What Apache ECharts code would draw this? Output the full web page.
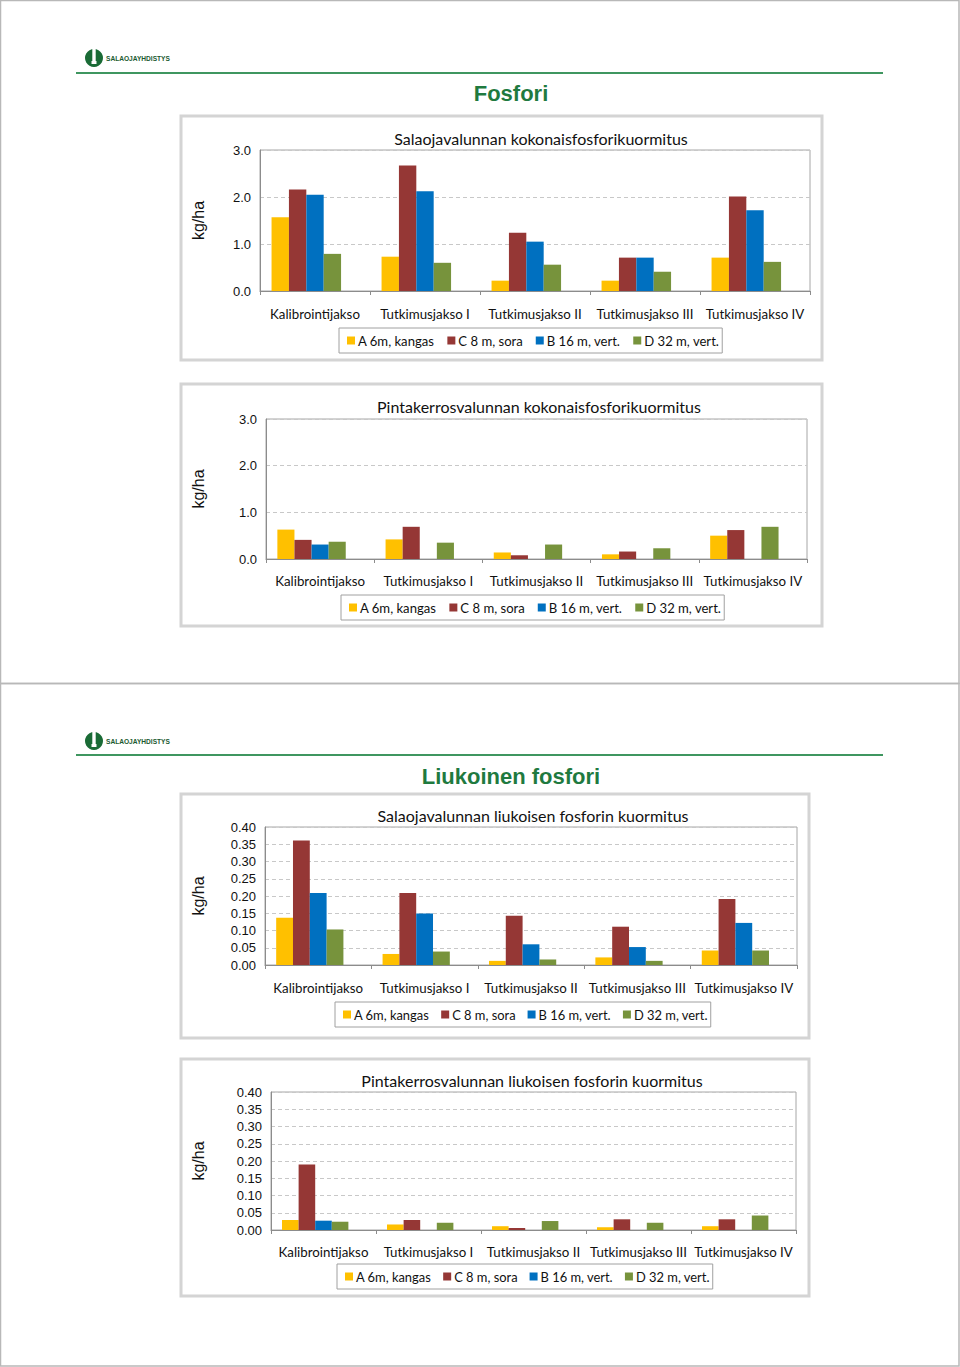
<!DOCTYPE html>
<html>
<head>
<meta charset="utf-8">
<script src="https://cdn.jsdelivr.net/npm/echarts@6/dist/echarts.min.js"></script>
<style>
html,body{margin:0;padding:0;background:#fff;}
#main{width:960px;height:1367px;}
</style>
</head>
<body>
<div id="main"></div>
<script>
// ---- data ----
const categories = ['Kalibrointijakso', 'Tutkimusjakso I', 'Tutkimusjakso II', 'Tutkimusjakso III', 'Tutkimusjakso IV'];
const seriesNames = ['A 6m, kangas', 'C 8 m, sora', 'B 16 m, vert.', 'D 32 m, vert.'];
const pageTitles = ['Fosfori', 'Liukoinen fosfori'];
const chartTitles = [
  'Salaojavalunnan kokonaisfosforikuormitus',
  'Pintakerrosvalunnan kokonaisfosforikuormitus',
  'Salaojavalunnan liukoisen fosforin kuormitus',
  'Pintakerrosvalunnan liukoisen fosforin kuormitus'
];
const yUnit = 'kg/ha';

// Chart 1: Salaojavalunnan kokonaisfosforikuormitus
const tot_drain_A = [1.57, 0.73, 0.22, 0.22, 0.71];
const tot_drain_C = [2.16, 2.67, 1.24, 0.71, 2.01];
const tot_drain_B = [2.05, 2.12, 1.05, 0.71, 1.72];
const tot_drain_D = [0.79, 0.60, 0.56, 0.41, 0.62];

// Chart 2: Pintakerrosvalunnan kokonaisfosforikuormitus
const tot_surf_A = [0.63, 0.42, 0.14, 0.10, 0.50];
const tot_surf_C = [0.41, 0.69, 0.08, 0.16, 0.62];
const tot_surf_B = [0.31, null, null, null, null];
const tot_surf_D = [0.37, 0.35, 0.31, 0.23, 0.69];

// Chart 3: Salaojavalunnan liukoisen fosforin kuormitus
const dis_drain_A = [0.137, 0.032, 0.012, 0.022, 0.042];
const dis_drain_C = [0.361, 0.209, 0.143, 0.111, 0.191];
const dis_drain_B = [0.209, 0.149, 0.060, 0.052, 0.122];
const dis_drain_D = [0.103, 0.039, 0.016, 0.012, 0.042];

// Chart 4: Pintakerrosvalunnan liukoisen fosforin kuormitus
const dis_surf_A = [0.029, 0.016, 0.011, 0.008, 0.011];
const dis_surf_C = [0.190, 0.029, 0.006, 0.031, 0.031];
const dis_surf_B = [0.027, null, null, null, null];
const dis_surf_D = [0.024, 0.021, 0.026, 0.021, 0.042];

const yTicks1 = [0, 3, 1];      // min, max, interval
const yTicks2 = [0, 0.4, 0.05];

// ---- styles ----
const colors = ['#FFC000', '#953735', '#0070C0', '#77933C'];
const calibri = 'Lato, "Open Sans", sans-serif';
const arial = '"Liberation Sans", Arial, sans-serif';
const green = '#1f7a3f';

const chartData = [
  [tot_drain_A, tot_drain_C, tot_drain_B, tot_drain_D],
  [tot_surf_A, tot_surf_C, tot_surf_B, tot_surf_D],
  [dis_drain_A, dis_drain_C, dis_drain_B, dis_drain_D],
  [dis_surf_A, dis_surf_C, dis_surf_B, dis_surf_D]
];
const scales = [yTicks1, yTicks1, yTicks2, yTicks2];
const decimals = [1, 1, 2, 2];

// layout
const grids = [
  {left: 260, top: 150, width: 550, height: 141},
  {left: 266, top: 419, width: 541, height: 140},
  {left: 265, top: 827, width: 532, height: 138},
  {left: 271, top: 1092, width: 525, height: 138}
];
const boxes = [
  {x: 181, y: 116, w: 641, h: 244},
  {x: 181, y: 384, w: 641, h: 242},
  {x: 181, y: 794, w: 628, h: 244},
  {x: 181, y: 1059, w: 628, h: 237}
];
const titlePos = [[541, 138], [539, 406], [533, 815], [532, 1080]];
const legendPos = [[339, 328], [341, 595], [335, 1002], [337, 1264]];
const legendFont = [13.1, 13.1, 12.9, 12.9];
const legendGap = [13, 13, 12, 12];
const nameGaps = [54, 60, 59, 65];
const labelMargins = [16, 15, 16, 15];

const option = {
  animation: false,
  grid: [], xAxis: [], yAxis: [], series: [], legend: [], title: [],
  graphic: []
};

// page frames
option.graphic.push(
  {type: 'rect', shape: {x: 0.5, y: 0.5, width: 958.5, height: 683}, style: {fill: 'none', stroke: '#b8b8b8', lineWidth: 1.5}, silent: true},
  {type: 'rect', shape: {x: 0.5, y: 683.5, width: 958.5, height: 682.5}, style: {fill: 'none', stroke: '#b8b8b8', lineWidth: 1.5}, silent: true}
);

// headers
[[58, 73, 93], [741, 755, 776]].forEach((h, i) => {
  const [ly, lineY, ty] = h;
  option.graphic.push(
    {type: 'circle', shape: {cx: 94, cy: ly, r: 9}, style: {fill: '#1a6b36'}, silent: true},
    {type: 'rect', shape: {x: 92.3, y: ly - 9, width: 3.4, height: 14}, style: {fill: '#ffffff'}, silent: true},
    {type: 'rect', shape: {x: 91.5, y: ly + 3, width: 5, height: 3}, style: {fill: '#ffffff'}, silent: true},
    {type: 'text', x: 106, y: ly, style: {text: 'SALAOJAYHDISTYS', fill: '#1a5a30', font: 'bold 6.6px ' + arial, textVerticalAlign: 'middle'}, silent: true},
    {type: 'rect', shape: {x: 76, y: lineY - 1, width: 807, height: 2}, style: {fill: '#3f9660'}, silent: true},
    {type: 'text', x: 511, y: ty, style: {text: pageTitles[i], fill: green, font: 'bold 22px ' + arial, textAlign: 'center', textVerticalAlign: 'middle'}, silent: true}
  );
});

chartData.forEach((sets, k) => {
  const b = boxes[k];
  option.graphic.push({type: 'rect', z: -10, shape: {x: b.x, y: b.y, width: b.w, height: b.h}, style: {fill: '#fff', stroke: '#d4d4d4', lineWidth: 3}, silent: true});
  option.graphic.push({type: 'text', x: titlePos[k][0], y: titlePos[k][1], style: {text: chartTitles[k], fill: '#111', font: '16px ' + calibri, textAlign: 'center', textVerticalAlign: 'middle'}, silent: true});

  const g = grids[k];
  option.grid.push({left: g.left, top: g.top, width: g.width, height: g.height, show: true, borderColor: '#a6a6a6', borderWidth: 1, backgroundColor: 'transparent'});
  option.xAxis.push({
    type: 'category', gridIndex: k, data: categories,
    axisLine: {lineStyle: {color: '#8c8c8c', width: 1}},
    axisTick: {show: true, length: 4, lineStyle: {color: '#8c8c8c'}},
    axisLabel: {color: '#111', fontFamily: calibri, fontSize: 13.3, margin: labelMargins[k], interval: 0}
  });
  const sc = scales[k];
  option.yAxis.push({
    type: 'value', gridIndex: k, min: sc[0], max: sc[1], interval: sc[2],
    name: yUnit, nameLocation: 'middle', nameGap: nameGaps[k],
    nameTextStyle: {fontFamily: arial, fontSize: 16, color: '#111'},
    axisLine: {show: true, lineStyle: {color: '#8c8c8c'}},
    axisTick: {show: false},
    axisLabel: {color: '#111', fontFamily: arial, fontSize: 13, margin: 9, formatter: v => v.toFixed(decimals[k])},
    splitLine: {show: true, lineStyle: {color: '#c8c8c8', type: [4, 3]}}
  });
  sets.forEach((d, s) => {
    option.series.push({
      type: 'bar', name: seriesNames[s], xAxisIndex: k, yAxisIndex: k, data: d,
      itemStyle: {color: colors[s]}, barGap: '0%', barCategoryGap: '21%'
    });
  });
  // empty fifth slot (present in the original workbook, no legend entry)
  option.series.push({type: 'bar', name: '', xAxisIndex: k, yAxisIndex: k, data: categories.map(() => null), barGap: '0%', barCategoryGap: '21%'});

  option.legend.push({
    left: legendPos[k][0], top: legendPos[k][1], orient: 'horizontal', data: seriesNames,
    icon: 'rect', itemWidth: 8, itemHeight: 8, itemGap: legendGap[k],
    borderColor: '#a0a0a0', borderWidth: 1, padding: [6, 3, 6, 8],
    textStyle: {fontFamily: calibri, fontSize: legendFont[k], color: '#111', padding: [0, 0, 0, -2]},
    selectedMode: false
  });
});

const chart = echarts.init(document.getElementById('main'), null, {renderer: 'svg'});
chart.setOption(option);
</script>
</body>
</html>
